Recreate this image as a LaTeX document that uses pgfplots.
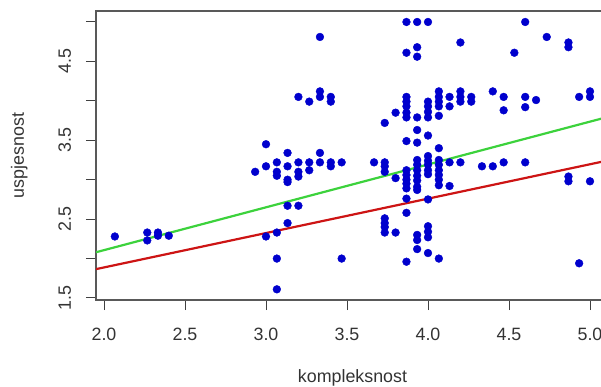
\documentclass[border=0pt]{standalone}
\usepackage{fontspec}
\setmainfont{Liberation Sans}
\usepackage{pgfplots}
\pgfplotsset{compat=1.18}
\definecolor{ptblue}{RGB}{0,0,205}
\definecolor{lgreen}{RGB}{60,210,60}
\definecolor{lred}{RGB}{205,20,20}
\pgfplotstableread{
x y
2.067 2.28
2.267 2.33
2.267 2.23
2.333 2.33
2.333 2.29
2.4 2.29
2.933 3.10
3.0 3.45
3.0 3.17
3.0 2.28
3.067 3.22
3.067 3.10
3.067 3.05
3.067 2.33
3.067 2.0
3.067 1.61
3.133 3.34
3.133 3.17
3.133 3.0
3.133 2.97
3.133 2.67
3.133 2.45
3.2 4.05
3.2 3.22
3.2 3.10
3.2 3.04
3.2 2.67
3.267 3.99
3.267 3.22
3.267 3.12
3.333 4.81
3.333 4.12
3.333 4.05
3.333 3.34
3.333 3.22
3.4 4.05
3.4 3.99
3.4 3.22
3.4 3.17
3.467 3.22
3.467 2.0
3.667 3.22
3.733 3.72
3.733 3.22
3.733 3.17
3.733 3.10
3.733 2.51
3.733 2.45
3.733 2.40
3.733 2.33
3.8 3.85
3.8 3.02
3.8 2.33
3.867 5.0
3.867 4.61
3.867 4.05
3.867 3.99
3.867 3.93
3.867 3.85
3.867 3.79
3.867 3.49
3.867 3.12
3.867 3.06
3.867 3.0
3.867 2.95
3.867 2.89
3.867 2.76
3.867 2.58
3.867 1.96
3.933 5.0
3.933 4.68
3.933 4.56
3.933 3.79
3.933 3.63
3.933 3.47
3.933 3.25
3.933 3.19
3.933 3.12
3.933 3.05
3.933 2.99
3.933 2.91
3.933 2.87
3.933 2.30
3.933 2.235
3.933 2.12
4.0 5.0
4.0 3.99
4.0 3.93
4.0 3.86
4.0 3.79
4.0 3.56
4.0 3.30
4.0 3.24
4.0 3.19
4.0 3.12
4.0 3.07
4.0 2.75
4.0 2.41
4.0 2.34
4.0 2.27
4.0 2.07
4.067 4.12
4.067 4.05
4.067 3.99
4.067 3.93
4.067 3.81
4.067 3.40
4.067 3.25
4.067 3.19
4.067 3.12
4.067 3.06
4.067 3.0
4.067 2.93
4.067 2.0
4.133 4.05
4.133 3.93
4.133 3.22
4.133 2.92
4.2 4.74
4.2 4.12
4.2 4.05
4.2 3.99
4.2 3.22
4.267 4.05
4.267 3.99
4.333 3.17
4.4 4.12
4.4 3.17
4.467 4.05
4.467 3.88
4.467 3.22
4.533 4.61
4.6 5.0
4.6 4.05
4.6 3.92
4.6 3.22
4.667 4.01
4.733 4.81
4.867 4.74
4.867 4.68
4.867 3.04
4.867 2.98
4.933 4.05
4.933 1.94
5.0 4.12
5.0 4.05
5.0 2.98
}\pts
\begin{document}
\fontsize{17.9}{21}\selectfont
\begin{tikzpicture}
\useasboundingbox (0bp,0bp) rectangle (601bp,387bp);
\clip (0bp,0bp) rectangle (601bp,387bp);
\begin{axis}[
  at={(96bp,87bp)}, anchor=south west,
  scale only axis, width=513bp, height=289bp,
  xmin=1.9506, xmax=5.1173, ymin=1.4746, ymax=5.1393,
  axis line style={black!65, line width=1.2bp},
  xtick={2,2.5,3,3.5,4,4.5,5},
  xticklabels={2.0,2.5,3.0,3.5,4.0,4.5,5.0},
  ytick={1.5,2,2.5,3,3.5,4,4.5,5},
  yticklabels={1.5,,2.5,,3.5,,4.5,},
  tick align=outside, xtick pos=bottom, ytick pos=left,
  major tick length=10bp,
  tick style={black!75, line width=1bp},
  xticklabel style={anchor=north, inner sep=0pt, text=black!80},
  yticklabel style={rotate=90, anchor=base, inner sep=0pt, text=black!80},
  xticklabel shift=18bp,
  yticklabel shift=15bp,
  every axis x label/.style={at={(axis description cs:0.5,-0.284)}, anchor=base, text=black!80},
  every axis y label/.style={at={(axis description cs:-0.1404,0.5)}, rotate=90, anchor=base, text=black!80},
  xlabel={kompleksnost},
  ylabel={uspjesnost},
]
\addplot[only marks, mark=*, mark size=3.9bp, color=ptblue, mark options={draw=ptblue, fill=ptblue}] table[x=x, y=y] {\pts};
\addplot[lgreen, line width=2.2bp] coordinates {(1.9506,2.08) (5.1173,3.80)};
\addplot[lred, line width=2.2bp] coordinates {(1.9506,1.866) (5.1173,3.247)};
\end{axis}
\end{tikzpicture}
\end{document}
